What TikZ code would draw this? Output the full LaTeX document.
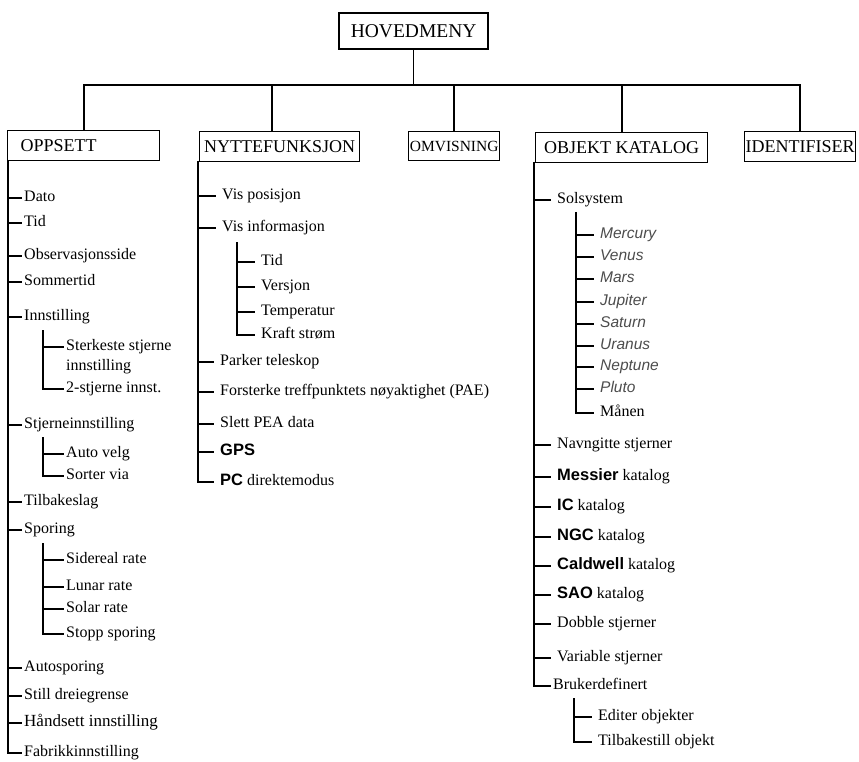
\documentclass[tikz,border=0pt]{standalone}
\usepackage{fontspec}
\setmainfont{Liberation Serif}
\setsansfont{Liberation Sans}
\usetikzlibrary{calc}

\tikzset{
	meny/.style={draw, line width=1.4pt, inner sep=0pt, anchor=north west, font=\fontsize{18}{20}\selectfont},
	punkt/.style={anchor=west, inner ysep=0pt, inner xsep=2pt, text height=10pt, text depth=3pt, font=\fontsize{16}{18}\selectfont},
	vid/.style={inner xsep=6pt},
	planet/.style={punkt, vid, text=black!70, font=\sffamily\itshape\fontsize{15.5}{17}\selectfont},
	gren/.style={line width=1.7pt}
}
\newcommand{\fet}[1]{{\sffamily\bfseries\fontsize{16.5}{17}\selectfont #1}}

\begin{document}
\begin{tikzpicture}[x=1pt, y=-1pt]
	
	\useasboundingbox (0,0) rectangle (859,762);
	
	\coordinate (barh) at (0,85);
	\coordinate (s1) at (8,160);
	\coordinate (s2) at (198,161);
	\coordinate (s4) at (534,162);
	\coordinate (c1) at (43,330);
	\coordinate (c2) at (43,437);
	\coordinate (c3) at (43,543);
	\coordinate (c4) at (237,242);
	\coordinate (c5) at (576,212);
	\coordinate (c6) at (574,698);
	
	% Hovedmenyen
	\node [meny, minimum width=149, minimum height=36, line width=2.2pt, font=\fontsize{19.5}{21}\selectfont] (hoved) at (338,12) {HOVEDMENY};
	
	% Undermenyene
	\node [meny, minimum width=152, minimum height=30, text width=126pt, inner xsep=13pt, align=left] (oppsett) at (7,130) {OPPSETT};
	\node [meny, minimum width=160, minimum height=30] (nytte) at (199,131) {NYTTEFUNKSJON};
	\node [meny, minimum width=91, minimum height=29, font=\fontsize{15.5}{17}\selectfont] (omvis) at (408,131) {OMVISNING};
	\node [meny, minimum width=172, minimum height=30] (objekt) at (535,132) {OBJEKT KATALOG};
	\node [meny, minimum width=111, minimum height=30] (ident) at (744,131) {IDENTIFISER};
	
	% Linjene fra hovedmenyen
	\coordinate (bar) at (hoved.south |- barh);
	\draw [gren] (hoved.south) -- (bar);
	\draw [gren] (bar) -| (oppsett.north);
	\draw [gren] (bar) -| ([xshift=-8pt]nytte.north);
	\draw [gren] (bar) -| (omvis.north);
	\draw [gren] (bar) -| (objekt.north);
	\draw [gren] (bar) -| (ident.north);
	
	% Oppsett
	\node [punkt] (dato) at (22,198) {Dato};
	\node [punkt] (tid) at (22,223) {Tid};
	\node [punkt] (obs) at (22,256) {Observasjonsside};
	\node [punkt] (sommer) at (22,282) {Sommertid};
	\node [punkt] (innst) at (22,317) {Innstilling};
	\node [punkt] (sterk) at (64,347) {Sterkeste stjerne};
	\node [punkt] (sterkb) at (64,367) {innstilling};
	\node [punkt] (tostj) at (64,389) {2-stjerne innst.};
	\node [punkt] (stjinn) at (22,425) {Stjerneinnstilling};
	\node [punkt] (autov) at (64,454) {Auto velg};
	\node [punkt] (sorter) at (64,476) {Sorter via};
	\node [punkt] (tilbake) at (22,502) {Tilbakeslag};
	\node [punkt] (sporing) at (22,530) {Sporing};
	\node [punkt] (sider) at (64,560) {Sidereal rate};
	\node [punkt] (lunar) at (64,587) {Lunar rate};
	\node [punkt] (solar) at (64,609) {Solar rate};
	\node [punkt] (stopp) at (64,634) {Stopp sporing};
	\node [punkt] (autosp) at (22,668) {Autosporing};
	\node [punkt] (still) at (22,696) {Still dreiegrense};
	\node [punkt, font=\fontsize{17}{19}\selectfont] (haand) at (22,723) {Håndsett innstilling};
	\node [punkt] (fabrikk) at (22,753) {Fabrikkinnstilling};
	
	\draw [gren] (s1) |- (fabrikk.west)
		(dato.west -| s1) -- (dato.west)
		(tid.west -| s1) -- (tid.west)
		(obs.west -| s1) -- (obs.west)
		(sommer.west -| s1) -- (sommer.west)
		(innst.west -| s1) -- (innst.west)
		(stjinn.west -| s1) -- (stjinn.west)
		(tilbake.west -| s1) -- (tilbake.west)
		(sporing.west -| s1) -- (sporing.west)
		(autosp.west -| s1) -- (autosp.west)
		(still.west -| s1) -- (still.west)
		(haand.west -| s1) -- (haand.west);
	\draw [gren] (c1) |- (tostj.west) (sterk.west -| c1) -- (sterk.west);
	\draw [gren] (c2) |- (sorter.west) (autov.west -| c2) -- (autov.west);
	\draw [gren] (c3) |- (stopp.west)
		(sider.west -| c3) -- (sider.west)
		(lunar.west -| c3) -- (lunar.west)
		(solar.west -| c3) -- (solar.west);
	
	% Nyttefunksjon
	\node [punkt, vid] (vispos) at (216,196) {Vis posisjon};
	\node [punkt, vid] (visinfo) at (216,228) {Vis informasjon};
	\node [punkt, vid] (tidb) at (255,262) {Tid};
	\node [punkt, vid] (versjon) at (255,287) {Versjon};
	\node [punkt, vid] (temp) at (255,312) {Temperatur};
	\node [punkt, vid] (kraft) at (255,335) {Kraft strøm};
	\node [punkt, vid] (parker) at (214,362) {Parker teleskop};
	\node [punkt, vid] (forst) at (214,392) {Forsterke treffpunktets nøyaktighet (PAE)};
	\node [punkt, vid] (slett) at (214,424) {Slett PEA data};
	\node [punkt, vid] (gps) at (214,452) {\fet{GPS}};
	\node [punkt, vid] (pc) at (214,482) {\fet{PC} direktemodus};
	
	\draw [gren] (s2) |- (pc.west)
		(vispos.west -| s2) -- (vispos.west)
		(visinfo.west -| s2) -- (visinfo.west)
		(parker.west -| s2) -- (parker.west)
		(forst.west -| s2) -- (forst.west)
		(slett.west -| s2) -- (slett.west)
		(gps.west -| s2) -- (gps.west);
	\draw [gren] (c4) |- (kraft.west)
		(tidb.west -| c4) -- (tidb.west)
		(versjon.west -| c4) -- (versjon.west)
		(temp.west -| c4) -- (temp.west);
	
	% Objekt katalog
	\node [punkt, vid] (sol) at (551,200) {Solsystem};
	\node [planet] (merkur) at (594,235) {Mercury};
	\node [planet] (venus) at (594,257) {Venus};
	\node [planet] (mars) at (594,279) {Mars};
	\node [planet] (jupiter) at (594,302) {Jupiter};
	\node [planet] (saturn) at (594,324) {Saturn};
	\node [planet] (uranus) at (594,346) {Uranus};
	\node [planet] (neptun) at (594,367) {Neptune};
	\node [planet] (pluto) at (594,389) {Pluto};
	\node [punkt, vid] (maanen) at (594,413) {Månen};
	\node [punkt, vid] (navn) at (551,445) {Navngitte stjerner};
	\node [punkt, vid] (messier) at (551,477) {\fet{Messier} katalog};
	\node [punkt, vid] (ic) at (551,507) {\fet{IC} katalog};
	\node [punkt, vid] (ngc) at (551,537) {\fet{NGC} katalog};
	\node [punkt, vid] (caldwell) at (551,566) {\fet{Caldwell} katalog};
	\node [punkt, vid] (sao) at (551,595) {\fet{SAO} katalog};
	\node [punkt, vid] (dobble) at (551,624) {Dobble stjerner};
	\node [punkt, vid] (variable) at (551,658) {Variable stjerner};
	\node [punkt] (bruker) at (551,686) {Brukerdefinert};
	\node [punkt, vid] (editer) at (592,717) {Editer objekter};
	\node [punkt, vid] (tilbakest) at (592,742) {Tilbakestill objekt};
	
	\draw [gren] (s4) |- (bruker.west)
		(sol.west -| s4) -- (sol.west)
		(navn.west -| s4) -- (navn.west)
		(messier.west -| s4) -- (messier.west)
		(ic.west -| s4) -- (ic.west)
		(ngc.west -| s4) -- (ngc.west)
		(caldwell.west -| s4) -- (caldwell.west)
		(sao.west -| s4) -- (sao.west)
		(dobble.west -| s4) -- (dobble.west)
		(variable.west -| s4) -- (variable.west);
	\draw [gren] (c5) |- (maanen.west)
		(merkur.west -| c5) -- (merkur.west)
		(venus.west -| c5) -- (venus.west)
		(mars.west -| c5) -- (mars.west)
		(jupiter.west -| c5) -- (jupiter.west)
		(saturn.west -| c5) -- (saturn.west)
		(uranus.west -| c5) -- (uranus.west)
		(neptun.west -| c5) -- (neptun.west)
		(pluto.west -| c5) -- (pluto.west);
	\draw [gren] (c6) |- (tilbakest.west) (editer.west -| c6) -- (editer.west);
	
\end{tikzpicture}
\end{document}
